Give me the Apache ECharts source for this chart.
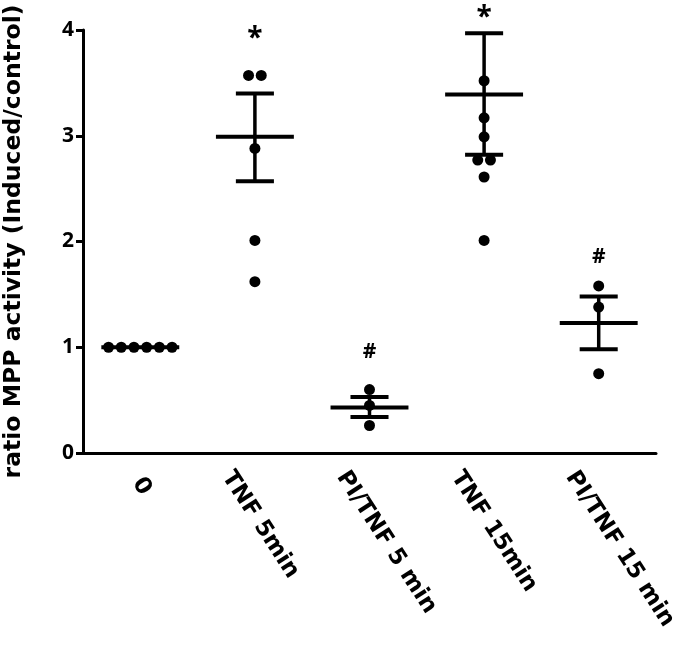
<!DOCTYPE html>
<html>
<head>
<meta charset="utf-8">
<script src="https://cdn.jsdelivr.net/npm/echarts@6/dist/echarts.min.js"></script>
<style>html,body{margin:0;padding:0;background:#fff}#c{width:680px;height:645px}</style>
</head>
<body>
<div id="c"></div>
<script>
const categories = ['0', 'TNF 5min', 'PI/TNF 5 min', 'TNF 15min', 'PI/TNF 15 min'];
const pointsCtrl = [1, 1, 1, 1, 1, 1];
const pointsTNF5 = [3.57, 3.57, 2.88, 2.01, 1.62];
const pointsPI5 = [0.60, 0.45, 0.26];
const pointsTNF15 = [3.52, 3.17, 2.99, 2.77, 2.77, 2.61, 2.01];
const pointsPI15 = [1.58, 1.38, 0.75];
const means = [1, 2.99, 0.43, 3.39, 1.23];
const upper = [1, 3.40, 0.53, 3.97, 1.48];
const lower = [1, 2.57, 0.34, 2.82, 0.98];
const sigLabels = ['', '*', '#', '*', '#'];
const sigY = [null, 3.97, 0.955, 4.17, 1.85];
const yTicks = [0, 1, 2, 3, 4];

const groups = [pointsCtrl, pointsTNF5, pointsPI5, pointsTNF15, pointsPI15];
const FONT = '"Open Sans", "DejaVu Sans", sans-serif';
const WFONT = '"DejaVu Sans", "Open Sans", sans-serif';
const DOT_SPACING = 12.7;

// build scatter data; equal values within a group are spread side by side
const scatterData = [];
groups.forEach((vals, gi) => {
  const used = new Array(vals.length).fill(false);
  vals.forEach((v, i) => {
    if (used[i]) return;
    const same = [];
    vals.forEach((w, j) => { if (!used[j] && Math.abs(w - v) < 0.02) { same.push(j); used[j] = true; } });
    same.forEach((j, k) => {
      const off = (k - (same.length - 1) / 2) * DOT_SPACING;
      scatterData.push({ value: [gi, vals[j]], symbolOffset: [off, 0] });
    });
  });
});

const labelStyle = { fontSize: 23, fontWeight: 'bold', fontFamily: WFONT, color: '#000' };

const chart = echarts.init(document.getElementById('c'));
chart.setOption({
  animation: false,
  backgroundColor: '#fff',
  grid: { left: 83, right: 24, top: 30, bottom: 192, outerBoundsMode: 'none' },
  xAxis: {
    type: 'category',
    data: categories,
    boundaryGap: true,
    axisLine: { lineStyle: { color: '#000', width: 3 } },
    axisTick: { alignWithLabel: true, length: 8, lineStyle: { color: '#000', width: 3 } },
    axisLabel: Object.assign({
      interval: 0,
      rotate: -57,
      margin: 2,
      formatter: (v, i) => (i === 0 ? '{z|' + v + '}' : '{l|' + v + '}'),
      rich: {
        z: Object.assign({ padding: [32, 0, 0, 19] }, labelStyle),
        l: Object.assign({ padding: [67, 0, 0, 0] }, labelStyle)
      }
    }, labelStyle),
    splitLine: { show: false }
  },
  yAxis: {
    type: 'value',
    min: yTicks[0],
    max: yTicks[yTicks.length - 1],
    interval: 1,
    name: 'ratio MPP activity (Induced/control)',
    nameLocation: 'middle',
    nameGap: 57,
    nameTextStyle: { color: '#000', fontSize: 23.5, fontWeight: 'bold', fontFamily: WFONT },
    axisLine: { show: true, lineStyle: { color: '#000', width: 3 } },
    axisTick: { show: true, length: 7, lineStyle: { color: '#000', width: 3 } },
    axisLabel: { margin: 9, color: '#000', fontSize: 21, fontWeight: 'bold', fontFamily: FONT },
    splitLine: { show: false }
  },
  series: [
    {
      type: 'custom',
      data: categories.map((c, i) => [i, means[i], upper[i], lower[i]]),
      z: 2,
      renderItem: (params, api) => {
        const i = api.value(0);
        const bw = api.size([1, 0])[0];
        const m = api.coord([i, api.value(1)]);
        const u = api.coord([i, api.value(2)]);
        const l = api.coord([i, api.value(3)]);
        const hw = bw * 0.34, cw = bw * 0.166;
        const st = { stroke: '#000', lineWidth: 4 };
        const children = [
          { type: 'line', shape: { x1: m[0] - hw, y1: m[1], x2: m[0] + hw, y2: m[1] }, style: st }
        ];
        if (Math.abs(u[1] - l[1]) > 1) {
          children.push(
            { type: 'line', shape: { x1: u[0], y1: u[1], x2: l[0], y2: l[1] }, style: { stroke: '#000', lineWidth: 3.5 } },
            { type: 'line', shape: { x1: u[0] - cw, y1: u[1], x2: u[0] + cw, y2: u[1] }, style: st },
            { type: 'line', shape: { x1: l[0] - cw, y1: l[1], x2: l[0] + cw, y2: l[1] }, style: st }
          );
        }
        return { type: 'group', children };
      }
    },
    {
      type: 'scatter',
      data: scatterData,
      symbol: 'circle',
      symbolSize: 11,
      itemStyle: { color: '#000', opacity: 1 },
      z: 3
    },
    {
      type: 'custom',
      data: categories.map((c, i) => [i, sigY[i] == null ? 0 : sigY[i], i]),
      z: 4,
      clip: false,
      renderItem: (params, api) => {
        const idx = api.value(2);
        const txt = sigLabels[idx];
        if (!txt) return null;
        const p = api.coord([api.value(0), api.value(1)]);
        const isStar = txt === '*';
        return {
          type: 'text',
          x: p[0],
          y: p[1] + (isStar ? 6 : 0),
          style: {
            text: txt,
            align: 'center',
            verticalAlign: 'middle',
            fill: '#000',
            font: 'bold ' + (isStar ? 28 : 21) + 'px ' + FONT
          }
        };
      }
    }
  ]
});
</script>
</body>
</html>
